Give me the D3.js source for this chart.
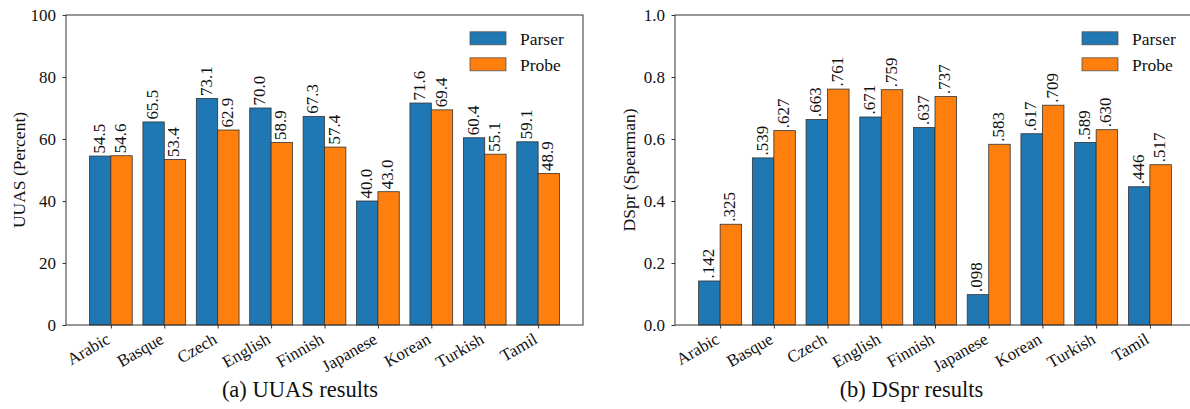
<!DOCTYPE html>
<html>
<head>
<meta charset="utf-8">
<script src="https://cdn.jsdelivr.net/npm/d3@7/dist/d3.min.js"></script>
<style>
  html, body { margin: 0; padding: 0; background: #fff; }
  svg { display: block; }
</style>
</head>
<body>
<svg id="chart" width="1190" height="409"></svg>
<script>
// ---- data ----
const languages = ["Arabic", "Basque", "Czech", "English", "Finnish", "Japanese", "Korean", "Turkish", "Tamil"];
const seriesNames = ["Parser", "Probe"];
const uuasParser = [54.5, 65.5, 73.1, 70.0, 67.3, 40.0, 71.6, 60.4, 59.1];
const uuasProbe  = [54.6, 53.4, 62.9, 58.9, 57.4, 43.0, 69.4, 55.1, 48.9];
const dsprParser = [0.142, 0.539, 0.663, 0.671, 0.637, 0.098, 0.617, 0.589, 0.446];
const dsprProbe  = [0.325, 0.627, 0.761, 0.759, 0.737, 0.583, 0.709, 0.630, 0.517];
const uuasTicks = [0, 20, 40, 60, 80, 100];
const dsprTicks = [0, 0.2, 0.4, 0.6, 0.8, 1.0];
const colors = ["#1f77b4", "#ff7f0e"];

const svg = d3.select("#chart");
const FS = 17;
const FONT = "'Liberation Serif', 'Times New Roman', Times, 'DejaVu Serif', serif";

function styleText(sel, size) {
  sel.style("font-family", FONT).style("font-size", size + "px").style("fill", "#111");
  return sel;
}

function panel(opts) {
  const { left, right, top, bottom, yMax, ticks, tickFmt, valFmt, parser, probe, yLabel, yLabelX, caption, captionX } = opts;
  const n = languages.length;
  const x = d3.scaleLinear().domain([-0.84, n - 1 + 0.84]).range([left, right]);
  const y = d3.scaleLinear().domain([0, yMax]).range([bottom, top]);
  const g = svg.append("g");
  const barW = 0.4;

  const data = [];
  languages.forEach((lang, i) => {
    data.push({ i, s: 0, v: parser[i] });
    data.push({ i, s: 1, v: probe[i] });
  });

  g.selectAll("rect.bar").data(data).enter().append("rect")
    .attr("class", "bar")
    .attr("x", d => x(d.i - barW + d.s * barW))
    .attr("width", d => x(barW) - x(0))
    .attr("y", d => y(d.v))
    .attr("height", d => y(0) - y(d.v))
    .attr("fill", d => colors[d.s])
    .attr("stroke", "#333")
    .attr("stroke-width", 0.8);

  styleText(g.selectAll("text.val").data(data).enter().append("text")
    .attr("class", "val")
    .attr("transform", d => {
      const cx = x(d.i - barW / 2 + d.s * barW);
      return `translate(${cx + 4.5},${y(d.v) - 2.5}) rotate(-90)`;
    })
    .attr("text-anchor", "start")
    .text(d => valFmt(d.v)), FS);

  // frame
  g.append("rect")
    .attr("x", left).attr("y", top)
    .attr("width", right - left).attr("height", bottom - top)
    .attr("fill", "none").attr("stroke", "#333").attr("stroke-width", 1);

  // y axis
  const ya = g.append("g").attr("transform", `translate(${left},0)`)
    .call(d3.axisLeft(y).tickValues(ticks).tickFormat(tickFmt).tickSize(3.5).tickPadding(6.5));
  ya.select(".domain").remove();
  ya.selectAll("line").attr("stroke", "#333");
  styleText(ya.selectAll("text"), FS).attr("dy", "0.35em");

  // x axis
  const xa = g.append("g").attr("transform", `translate(0,${bottom})`)
    .call(d3.axisBottom(x).tickValues(d3.range(n)).tickFormat(i => languages[i]).tickSize(3.5));
  xa.select(".domain").remove();
  xa.selectAll("line").attr("stroke", "#333");
  styleText(xa.selectAll("text"), FS)
    .attr("y", null).attr("dy", null)
    .attr("text-anchor", "end")
    .attr("transform", `translate(0,${7 + 0.866 * 12}) rotate(-30)`);

  // y label
  styleText(g.append("text")
    .attr("transform", `translate(${yLabelX},${(top + bottom) / 2}) rotate(-90)`)
    .attr("text-anchor", "middle")
    .text(yLabel), 17.5);

  // legend
  const lx = right - 113;
  seriesNames.forEach((name, k) => {
    const cy = 38.3 + k * 26;
    g.append("rect").attr("x", lx).attr("y", cy - 6.5).attr("width", 36).attr("height", 13)
      .attr("fill", colors[k]).attr("stroke", "#555").attr("stroke-width", 0.8);
    styleText(g.append("text").attr("x", lx + 50).attr("y", cy + 6.5).text(name), 17.5);
  });

  // caption
  styleText(svg.append("text").attr("x", captionX).attr("y", 397)
    .attr("text-anchor", "middle")
    .text(caption), 22.5);
}

panel({
  left: 66, right: 583, top: 15, bottom: 325, yMax: 100,
  ticks: uuasTicks, tickFmt: d3.format("d"), valFmt: d3.format(".1f"),
  parser: uuasParser, probe: uuasProbe,
  yLabel: "UUAS (Percent)", yLabelX: 25, caption: "(a) UUAS results", captionX: 300
});
panel({
  left: 675, right: 1195, top: 15, bottom: 325, yMax: 1.0,
  ticks: dsprTicks, tickFmt: d3.format(".1f"), valFmt: v => d3.format(".3f")(v).replace(/^0/, ""),
  parser: dsprParser, probe: dsprProbe,
  yLabel: "DSpr (Spearman)", yLabelX: 635, caption: "(b) DSpr results", captionX: 911.5
});
</script>
</body>
</html>
